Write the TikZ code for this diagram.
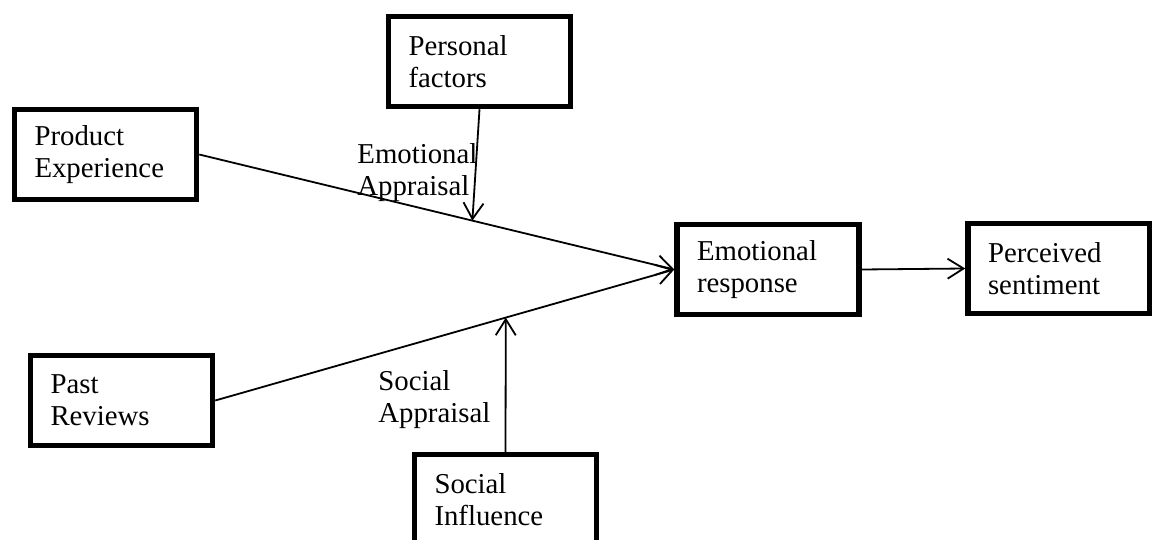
\documentclass[tikz,border=0pt]{standalone}
\usepackage{fontspec}
\setmainfont{Liberation Serif}
\usetikzlibrary{arrows.meta,calc}
\begin{document}
\begin{tikzpicture}[x=0.5pt,y=-0.5pt,
	box/.style={draw,line width=2.75pt,minimum width=91pt,minimum height=45pt,text width=71pt,inner xsep=10pt,align=left,font=\fontsize{14.4}{16}\selectfont},
	lab/.style={inner sep=0pt,anchor=north west,align=left,font=\fontsize{14.4}{16}\selectfont},
	arr/.style={-{Straight Barb[length=8pt,width=10pt]},line width=0.9pt}]
	\clip (0,0) rectangle (1152,540);
	\node[box] (pf) at (479.5,61.5) {Personal\\factors};
	\node[box] (pe) at (105.5,154.5) {Product\\Experience};
	\node[box] (pr) at (121.5,400.5) {Past\\Reviews};
	\node[box] (si) at (505.5,499.5) {Social\\Influence};
	\node[box] (er) at (768,269.5) {Emotional\\response};
	\node[box] (ps) at (1059,268.5) {Perceived\\sentiment};
	\draw[arr] (pe.east) -- (er.west);
	\draw[arr] (pr.east) -- (er.west);
	\draw[arr] (er.east) -- (ps.west);
	\coordinate (ea) at ($(pe.east)!0.575!(er.west)$);
	\coordinate (sa) at ($(pr.east)!0.633!(er.west)$);
	\draw[arr] (pf.south) -- (ea);
	\draw[arr] (si.north) -- (sa);
	\node[lab] (ealab) at (357,143) {Emotional\\Appraisal};
	\node[lab] (salab) at (378,370) {Social\\Appraisal};
\end{tikzpicture}
\end{document}
